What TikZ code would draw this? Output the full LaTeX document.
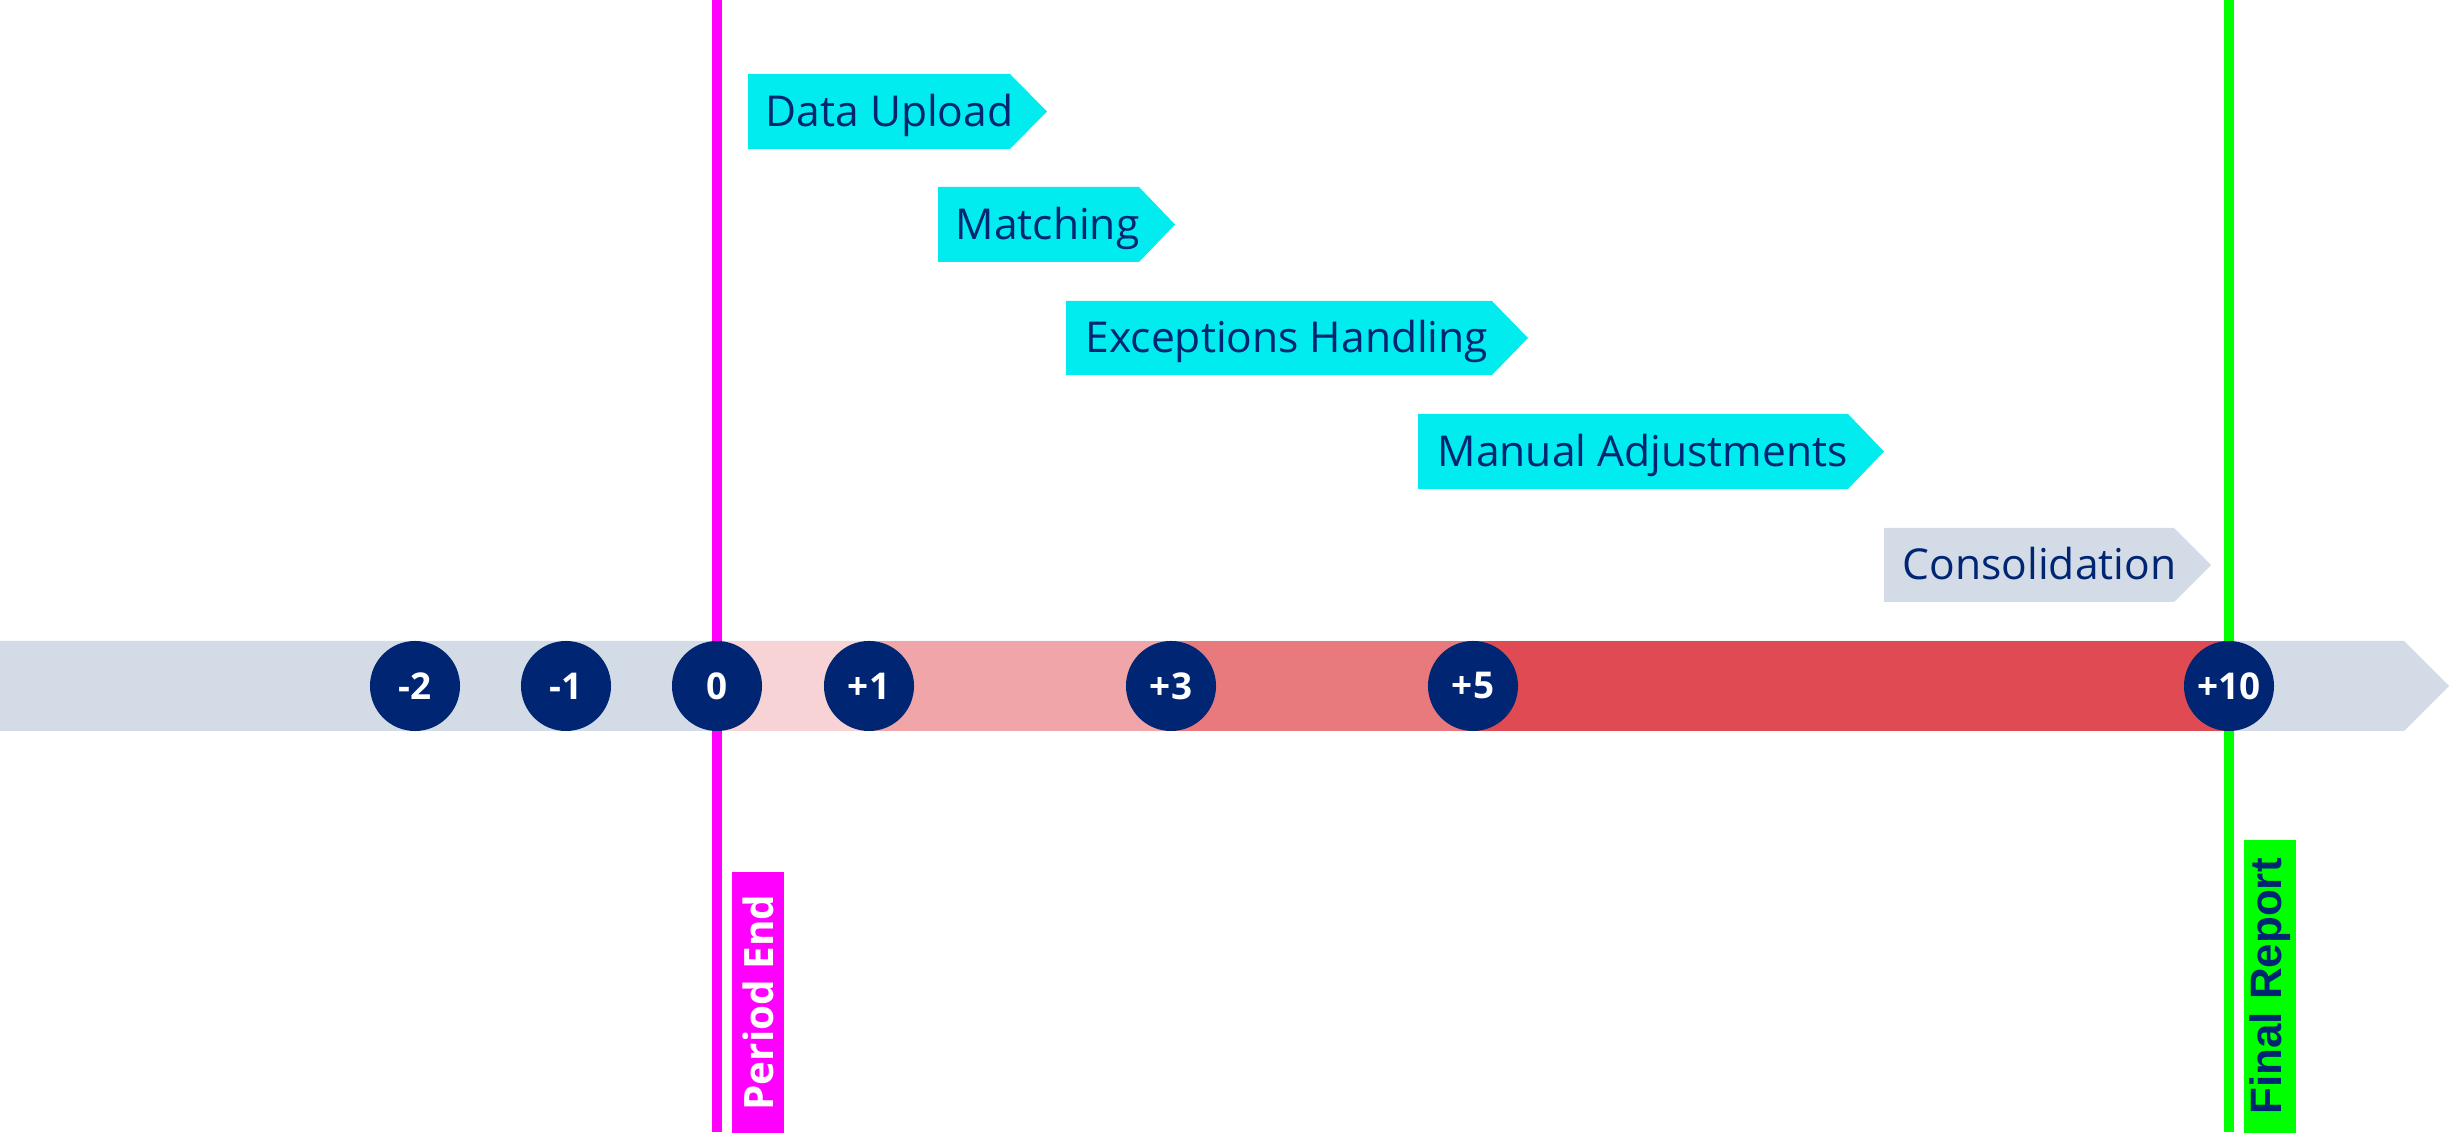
\documentclass[tikz,border=0pt]{standalone}
\usepackage{fontspec}
\setmainfont{Open Sans}
\newfontfamily\arialfont{Liberation Sans}
\usepackage{xcolor}
\usetikzlibrary{positioning}

\definecolor{navy}{RGB}{0,38,115}
\definecolor{bandgray}{RGB}{211,219,231}
\definecolor{taskcyan}{RGB}{0,236,238}
\definecolor{redA}{RGB}{247,211,213}
\definecolor{redB}{RGB}{240,166,168}
\definecolor{redC}{RGB}{232,121,125}
\definecolor{redD}{RGB}{224,75,83}
\definecolor{periodmag}{RGB}{255,0,255}
\definecolor{reportgreen}{RGB}{0,255,0}

\tikzset{
  daymark/.style={circle,fill=navy,text=white,minimum size=0.9cm,inner sep=0pt,
    font=\fontsize{10.5pt}{12pt}\selectfont\bfseries},
  tasklabel/.style={anchor=base west,inner sep=0pt,text=navy,
    font=\fontsize{12.1pt}{14pt}\selectfont},
  marker/.style={line width=0.1cm},
  tag/.style={rotate=90,inner sep=0pt,minimum height=0.52cm}
}

\begin{document}
\begin{tikzpicture}[x=0.01cm,y=-0.01cm]
      \useasboundingbox (0,0) rectangle (2450,1134);

      % Timeline band
      \fill[bandgray] (0,641) -- (2404,641) -- (2449,686) -- (2404,731) -- (0,731) -- cycle;
      \fill[redA] (717,641) rectangle (869,731);
      \fill[redB] (869,641) rectangle (1171,731);
      \fill[redC] (1171,641) rectangle (1473,731);
      \fill[redD] (1473,641) rectangle (2229,731);

      % Period end and final report lines
      \coordinate (pe top) at (717,0);
      \coordinate (pe bot) at (717,1132);
      \coordinate (fr top) at (2229,0);
      \coordinate (fr bot) at (2229,1132);
      \draw[marker,periodmag] (pe top) -- (pe bot);
      \draw[marker,reportgreen] (fr top) -- (fr bot);

      % Day markers
      \node[daymark] (dm2) at (415,686) {-2};
      \node[daymark] (dm1) at (566,686) {-1};
      \node[daymark] (d0) at (717,686) {0};
      \node[daymark] (dp1) at (869,686) {+1};
      \node[daymark] (dp3) at (1171,686) {+3};
      \node[daymark] (dp5) at (1473,686) {+5};
      \node[daymark] (dp10) at (2229,686) {+10};

      % Tasks
      \fill[taskcyan] (748,74) -- (1010,74) -- (1047,111.5) -- (1010,149) -- (748,149) -- cycle;
      \node[tasklabel] (upload) at (765,126.5) {Data Upload};
      \fill[taskcyan] (938,187) -- (1139,187) -- (1175,224.5) -- (1139,262) -- (938,262) -- cycle;
      \node[tasklabel] (matching) at (955,239.5) {Matching};
      \fill[taskcyan] (1066,301) -- (1492,301) -- (1528,338) -- (1492,375) -- (1066,375) -- cycle;
      \node[tasklabel] (exceptions) at (1085,353) {Exceptions Handling};
      \fill[taskcyan] (1418,414) -- (1848,414) -- (1884,451.5) -- (1848,489) -- (1418,489) -- cycle;
      \node[tasklabel] (manual) at (1437,466.5) {Manual Adjustments};
      \fill[bandgray] (1884,528) -- (2174,528) -- (2211,565) -- (2174,602) -- (1884,602) -- cycle;
      \node[tasklabel] (consolidation) at (1902,580) {Consolidation};

      % Vertical tags
      \node[tag,fill=periodmag,text=white,minimum width=2.61cm,
        font=\fontsize{11.5pt}{14pt}\selectfont\bfseries] (period) at (758,1002.5) {Period End};
      \node[tag,fill=reportgreen,text=navy,minimum width=2.93cm,
        font=\arialfont\fontsize{12.5pt}{15pt}\selectfont\bfseries] (report) at (2270,986.5) {Final Report};
\end{tikzpicture}
\end{document}
